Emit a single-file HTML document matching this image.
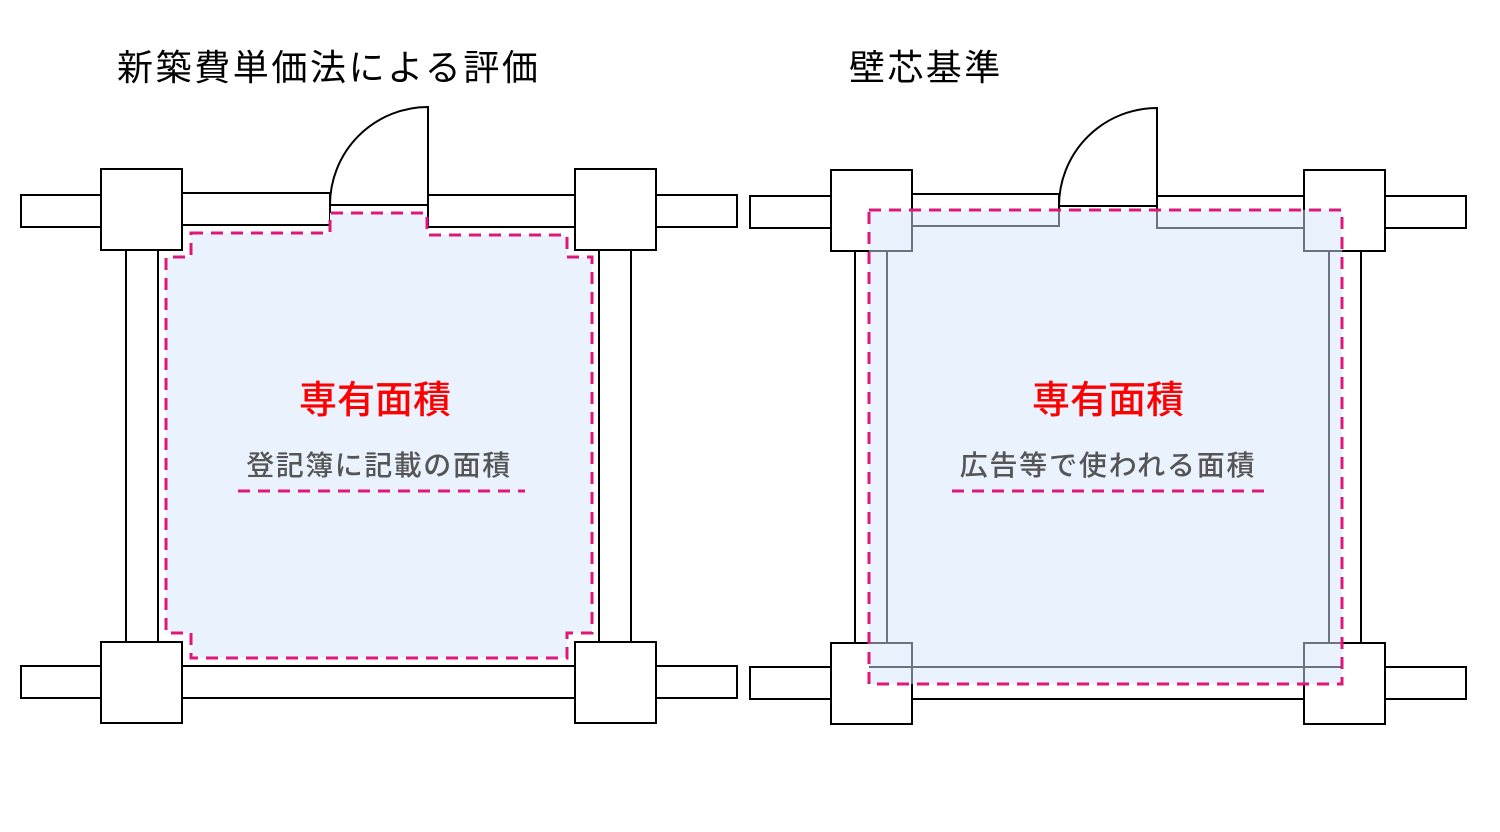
<!DOCTYPE html>
<html><head><meta charset="utf-8"><style>
html,body{margin:0;padding:0;background:#fff;}
svg{display:block;}
text{font-family:"Liberation Sans","Noto Sans CJK JP",sans-serif;}
</style></head><body>
<svg width="1500" height="832" viewBox="0 0 1500 832" xmlns="http://www.w3.org/2000/svg">
<defs>
<clipPath id="cr"><rect x="869" y="210" width="473" height="474"/></clipPath>
</defs>
<text x="117" y="80" font-size="36" fill="#000" letter-spacing="2.6">新築費単価法による評価</text>
<text x="849" y="80" font-size="36" fill="#000" letter-spacing="2.4">壁芯基準</text>

<!-- LEFT -->
<g stroke="#000" stroke-width="2" fill="#fff">
<rect x="21" y="195" width="80" height="32"/>
<rect x="656" y="195" width="81" height="32"/>
<rect x="182" y="193" width="148" height="32"/>
<rect x="428" y="195" width="147" height="32"/>
<rect x="126" y="250" width="32" height="392"/>
<rect x="599" y="250" width="32" height="392"/>
<rect x="21" y="666" width="716" height="32"/>
<path d="M330,205 L428,205 L428,107 A98,98 0 0 0 330,205" />
</g>
<path d="M191,233 L330,233 L330,213 L427,213 L427,235 L567,235 L567,257 L592,257 L592,633 L567,633 L567,658 L191,658 L191,633 L166,633 L166,257 L191,257 Z" fill="#eaf2fe" stroke="#e0177a" stroke-width="3" stroke-dasharray="12,8"/>
<g stroke="#000" stroke-width="2" fill="#fff">
<rect x="101" y="169" width="81" height="81"/>
<rect x="575" y="169" width="81" height="81"/>
<rect x="101" y="642" width="81" height="81"/>
<rect x="575" y="642" width="81" height="81"/>
</g>
<text x="375" y="413" font-size="38" fill="#ff0000" text-anchor="middle" font-weight="500">専有面積</text>
<text x="379" y="475" font-size="28" fill="#555" text-anchor="middle" letter-spacing="1.5" font-weight="500">登記簿に記載の面積</text>
<line x1="238" y1="491" x2="525" y2="491" stroke="#e0177a" stroke-width="3" stroke-dasharray="12,8"/>

<!-- RIGHT -->
<g stroke="#000" stroke-width="2" fill="#fff">
<rect x="750" y="196" width="81" height="32"/>
<rect x="1385" y="196" width="81" height="32"/>
<rect x="912" y="194" width="147" height="32"/>
<rect x="1157" y="196" width="147" height="32"/>
<rect x="855" y="251" width="32" height="392"/>
<rect x="1329" y="251" width="32" height="392"/>
<rect x="750" y="667" width="716" height="32"/>
<rect x="831" y="170" width="81" height="81"/>
<rect x="1304" y="170" width="81" height="81"/>
<rect x="831" y="643" width="81" height="81"/>
<rect x="1304" y="643" width="81" height="81"/>
<path d="M1059,206 L1157,206 L1157,108 A98,98 0 0 0 1059,206" />
</g>
<rect x="869" y="210" width="473" height="474" fill="#eaf2fe"/>
<g clip-path="url(#cr)" stroke="#6b7280" stroke-width="2" fill="none">
<rect x="912" y="194" width="147" height="32"/>
<rect x="1157" y="196" width="147" height="32"/>
<rect x="855" y="251" width="32" height="392"/>
<rect x="1329" y="251" width="32" height="392"/>
<rect x="750" y="667" width="716" height="32"/>
<rect x="831" y="170" width="81" height="81"/>
<rect x="1304" y="170" width="81" height="81"/>
<rect x="831" y="643" width="81" height="81"/>
<rect x="1304" y="643" width="81" height="81"/>
</g>
<rect x="869" y="210" width="473" height="474" fill="none" stroke="#e0177a" stroke-width="3" stroke-dasharray="12,8"/>
<text x="1108" y="413" font-size="38" fill="#ff0000" text-anchor="middle" font-weight="500">専有面積</text>
<text x="1108" y="475" font-size="28" fill="#555" text-anchor="middle" letter-spacing="1.8" font-weight="500">広告等で使われる面積</text>
<line x1="952" y1="491" x2="1272" y2="491" stroke="#e0177a" stroke-width="3" stroke-dasharray="12,8"/>
</svg>
</body></html>
